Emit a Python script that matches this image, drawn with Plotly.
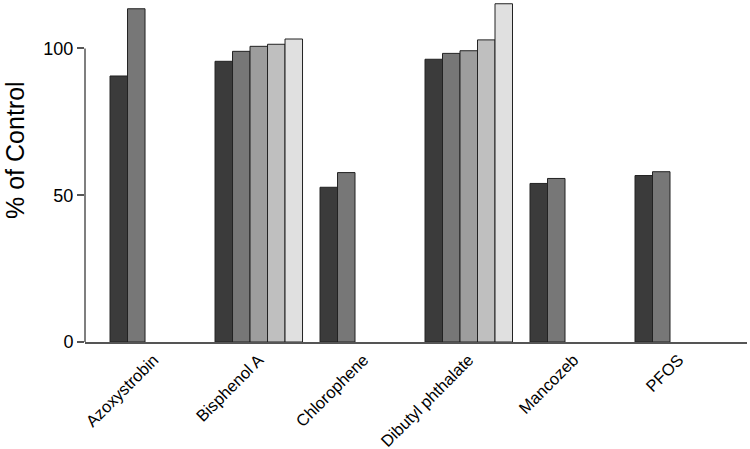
import plotly.graph_objects as go

# chemicals on the x axis
chemicals = ["Azoxystrobin", "Bisphenol A", "Chlorophene",
             "Dibutyl phthalate", "Mancozeb", "PFOS"]

# % of control per concentration level (None = not tested)
level_1 = [90.6, 95.6, 52.7, 96.3, 54.0, 56.7]
level_2 = [113.5, 99.0, 57.7, 98.3, 55.7, 58.0]
level_3 = [None, 100.7, None, 99.2, None, None]
level_4 = [None, 101.4, None, 102.9, None, None]
level_5 = [None, 103.2, None, 115.2, None, None]

series = [level_1, level_2, level_3, level_4, level_5]
colors = ["#3b3b3b", "#777777", "#9d9d9d", "#bfbfbf", "#e0e0e0"]

y_ticks = [0, 50, 100]

fig = go.Figure()

for i, vals in enumerate(series):
    fig.add_trace(go.Bar(
        x=chemicals,
        y=vals,
        name=f"Level {i + 1}",
        marker=dict(color=colors[i], line=dict(color="#222222", width=1)),
    ))

fig.update_layout(
    width=750,
    height=449,
    barmode="group",
    bargap=1 / 6,
    bargroupgap=0,
    showlegend=False,
    plot_bgcolor="white",
    paper_bgcolor="white",
    margin=dict(l=85, r=3, t=3, b=107),
    font=dict(family="Liberation Sans, Arial, sans-serif", color="black"),
    xaxis=dict(
        range=[-0.655, 5.65],
        automargin=False,
        showline=True,
        linecolor="#555555",
        linewidth=1.5,
        ticks="",
        tickangle=-45,
        tickfont=dict(size=16.5),
        showgrid=False,
        zeroline=False,
    ),
    yaxis=dict(
        range=[0, 115.46],
        automargin=False,
        tickvals=y_ticks,
        ticks="outside",
        ticklen=7,
        tickwidth=1.5,
        tickcolor="#555555",
        tickfont=dict(size=18),
        showline=False,
        showgrid=False,
        zeroline=False,
    ),
)

# y axis line only spans 0..100
fig.add_shape(
    type="line", xref="paper", yref="y",
    x0=0, x1=0, y0=0, y1=100,
    line=dict(color="#555555", width=1.5),
)

# axis title
fig.add_annotation(
    text="% of Control",
    xref="paper", yref="paper",
    x=-0.106, y=0.566,
    xanchor="center", yanchor="middle",
    textangle=-90,
    showarrow=False,
    font=dict(size=25, color="black"),
)

# drop the default page margin so the figure sits at the top-left corner
fig.write_html(
    "out.html",
    config={"displayModeBar": False},
    post_script="document.body.style.margin='0';",
)
